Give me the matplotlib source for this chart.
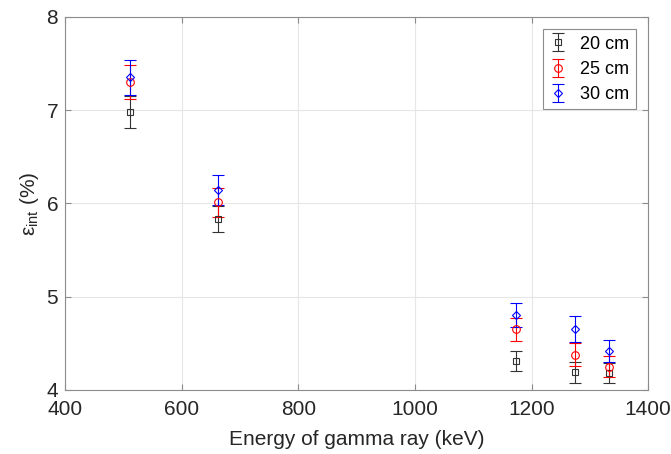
import matplotlib.pyplot as plt

plt.rcParams['font.family'] = ['Liberation Sans', 'DejaVu Sans']
plt.rcParams['mathtext.fontset'] = 'custom'
plt.rcParams['mathtext.rm'] = 'Liberation Sans'
plt.rcParams['mathtext.it'] = 'Liberation Sans:italic'

# Gamma ray energies (keV)
energy = [511, 662, 1173, 1275, 1332]

# intrinsic efficiency (%) and uncertainties per distance
eff_20 = [6.98, 5.83, 4.31, 4.19, 4.18]
err_20 = [0.17, 0.14, 0.11, 0.11, 0.11]
eff_25 = [7.30, 6.01, 4.65, 4.38, 4.25]
err_25 = [0.18, 0.16, 0.12, 0.12, 0.11]
eff_30 = [7.35, 6.14, 4.80, 4.65, 4.42]
err_30 = [0.19, 0.16, 0.13, 0.14, 0.12]

labels = ['20 cm', '25 cm', '30 cm']

fig = plt.figure(figsize=(6.71, 4.54), dpi=100)
ax = fig.add_axes([0.097, 0.141, 0.869, 0.822])

series = [
    (eff_20, err_20, 's', '#333333', 4.5),
    (eff_25, err_25, 'o', 'red', 5.5),
    (eff_30, err_30, 'D', 'blue', 4.5),
]
for (vals, errs, mk, col, ms), lab in zip(series, labels):
    ax.errorbar(energy, vals, yerr=errs, fmt=mk, color=col, mfc='none',
                ms=ms, mew=0.8, elinewidth=0.8, capsize=4, capthick=0.8,
                label=lab)

ax.set_xlim(400, 1400)
ax.set_ylim(4, 8)
ax.set_xticks([400, 600, 800, 1000, 1200, 1400])
ax.set_yticks([4, 5, 6, 7, 8])
ax.grid(True, color='#e6e6e6', linewidth=0.8)
ax.set_axisbelow(True)

for s in ax.spines.values():
    s.set_color('#8c8c8c')
    s.set_linewidth(0.8)
ax.tick_params(direction='in', top=True, right=True, length=4,
               color='#8c8c8c', labelsize=15, labelcolor='#262626', pad=5)
ax.tick_params(axis='x', pad=7)

ax.set_xlabel('Energy of gamma ray (keV)', fontsize=15, color='#262626',
              labelpad=8)
ax.set_ylabel(r'ε$_{\rm int}$ (%)', fontsize=15, color='#262626', labelpad=4)

leg = ax.legend(loc='upper right', fontsize=13, handlelength=1.0,
                borderaxespad=0.7, borderpad=0.35, fancybox=False,
                framealpha=1, edgecolor='#8c8c8c', handletextpad=0.7,
                labelspacing=0.45)
leg.get_frame().set_linewidth(0.8)

fig.savefig('out.png', dpi=100)
